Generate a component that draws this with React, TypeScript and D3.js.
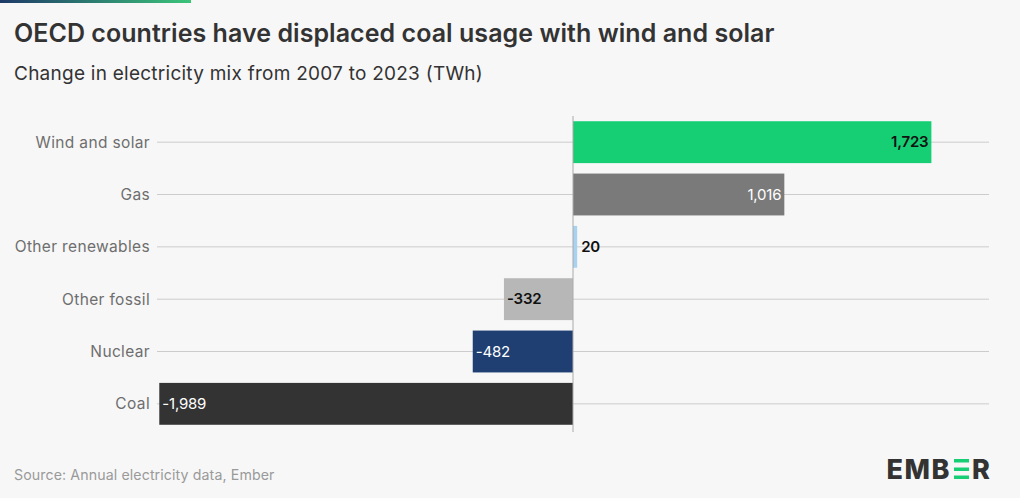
import React from "react";
import * as d3 from "d3";

const categories = ["Wind and solar", "Gas", "Other renewables", "Other fossil", "Nuclear", "Coal"];
const values = [1723, 1016, 20, -332, -482, -1989];
const barColors = ["#16cf75", "#7a7a7a", "#a8d3f0", "#b7b7b7", "#1f3f73", "#333333"];
const labelColors = ["#111111", "#ffffff", "#111111", "#111111", "#ffffff", "#ffffff"];
const labelWeights = [600, 400, 600, 600, 400, 400];

const W = 1020;
const H = 498;
const FONT = "Inter, 'Noto Sans', sans-serif";

export default function App() {
  const x = d3.scaleLinear().domain([-2000, 2000]).range([157, 989]);
  const y = d3.scaleBand<string>().domain(categories).range([116, 430]).paddingInner(0.2).paddingOuter(0.1);
  const fmt = d3.format(",");
  const x0 = x(0);
  const bw = y.bandwidth();

  return (
    <div style={{ position: "absolute", left: 0, top: 0 }}>
      <svg width={W} height={H} style={{ display: "block", fontFamily: FONT }}>
        <defs>
          <linearGradient id="topbar" x1="0" x2="1" y1="0" y2="0">
            <stop offset="0" stopColor="#1e3a68" />
            <stop offset="1" stopColor="#3cc47a" />
          </linearGradient>
        </defs>
        <rect x={0} y={0} width={W} height={H} fill="#f7f7f7" />
        <rect x={0} y={0} width={191} height={3} fill="url(#topbar)" />
        <text x={14} y={42} fontSize={25} fontWeight={600} fill="#333333" letterSpacing={0.05}>
          OECD countries have displaced coal usage with wind and solar
        </text>
        <text x={14} y={80} fontSize={19} fill="#333333" letterSpacing={0.25}>
          Change in electricity mix from 2007 to 2023 (TWh)
        </text>

        {categories.map((c) => {
          const cy = (y(c) as number) + bw / 2;
          return (
            <g key={"g" + c}>
              <line x1={157} x2={989} y1={cy} y2={cy} stroke="#cccccc" strokeWidth={1} />
              <text x={150} y={cy} dy="0.35em" textAnchor="end" fontSize={15.5} letterSpacing={0.35} fill="#6e6e6e">
                {c}
              </text>
            </g>
          );
        })}

        {categories.map((c, i) => {
          const v = values[i];
          const by = y(c) as number;
          const x1 = x(Math.min(0, v));
          const x2 = x(Math.max(0, v));
          const cy = by + bw / 2;
          const small = Math.abs(x2 - x1) < 40;
          let tx: number;
          let anchor: "start" | "end";
          if (v >= 0) {
            if (small) {
              tx = x2 + 4;
              anchor = "start";
            } else {
              tx = x2 - 3;
              anchor = "end";
            }
          } else {
            tx = x1 + 3;
            anchor = "start";
          }
          return (
            <g key={"b" + c}>
              <rect x={x1} y={by} width={x2 - x1} height={bw} fill={barColors[i]} />
              <text
                x={tx}
                y={cy}
                dy="0.35em"
                textAnchor={anchor}
                fontSize={15}
                fontWeight={labelWeights[i]}
                fill={small ? "#111111" : labelColors[i]}
                letterSpacing={-0.2}
              >
                {fmt(v).replace("−", "-")}
              </text>
            </g>
          );
        })}

        <line x1={x0} x2={x0} y1={116} y2={432} stroke="#aaaaaa" strokeWidth={1} />

        <text x={14} y={480} fontSize={14.2} fill="#9a9a9a" letterSpacing={0.1}>
          Source: Annual electricity data, Ember
        </text>

        <g>
          <text x={951} y={479} textAnchor="end" fontSize={27} fontWeight={800} fill="#333333" letterSpacing={1.5}>
            EMB
          </text>
          <rect x={954} y={459} width={15} height={3.5} fill="#16cf75" />
          <rect x={954} y={467.5} width={15} height={3.5} fill="#16cf75" />
          <rect x={954} y={475.5} width={15} height={3.5} fill="#16cf75" />
          <text x={972} y={479} fontSize={27} fontWeight={800} fill="#333333">
            R
          </text>
        </g>
      </svg>
    </div>
  );
}
